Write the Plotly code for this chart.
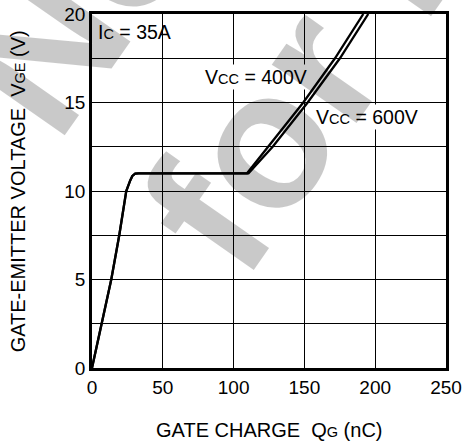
import plotly.graph_objects as go

# ---- data ----
q_400 = [0, 7.05, 13.6, 19.25, 24.2, 27, 28.5, 30.5, 33, 109.5, 124.6, 149.2, 171.6, 191.6]
v_400 = [0, 2.5, 5, 7.5, 10, 10.6, 10.85, 10.98, 11.0, 11.0, 12.5, 15, 17.5, 20]
q_600 = [0, 7.05, 13.6, 19.25, 24.2, 27, 28.5, 30.5, 33, 110.5, 127.6, 152.3, 175.1, 195.1]
v_600 = [0, 2.5, 5, 7.5, 10, 10.6, 10.85, 10.98, 11.0, 11.0, 12.5, 15, 17.5, 20]

x_ticks = [0, 50, 100, 150, 200, 250]
y_ticks = [0, 5, 10, 15, 20]
y_minor = [2.5, 7.5, 12.5, 17.5]

FONT = "Liberation Sans, Arial, Helvetica, sans-serif"
SM = "<span style='font-size:14.5px'>{}</span>"
WM = "rgba(0,0,0,0.21)"

fig = go.Figure()
fig.add_trace(go.Scatter(x=q_400, y=v_400, mode="lines", name="VCC = 400V",
                         line=dict(color="black", width=2.3), showlegend=False))
fig.add_trace(go.Scatter(x=q_600, y=v_600, mode="lines", name="VCC = 600V",
                         line=dict(color="black", width=2.3), showlegend=False))

annotations = [
    # labels
    dict(x=2.9, y=19.0, xref="x", yref="y", text="I" + SM.format("C") + " = 35A",
         showarrow=False, xanchor="left", yanchor="middle",
         font=dict(family=FONT, size=19.5, color="black")),
    dict(x=78.5, y=16.45, xref="x", yref="y", text="V" + SM.format("CC") + " = 400V",
         showarrow=False, xanchor="left", yanchor="middle", bgcolor="white",
         font=dict(family=FONT, size=19.5, color="black")),
    dict(x=156.5, y=14.2, xref="x", yref="y", text="V" + SM.format("CC") + " = 600V",
         showarrow=False, xanchor="left", yanchor="middle", bgcolor="white",
         font=dict(family=FONT, size=19.5, color="black")),
    # axis titles
    dict(x=0.5, y=-0.175, xref="paper", yref="paper",
         text="GATE CHARGE  Q" + SM.format("G") + " (nC)", showarrow=False,
         xanchor="center", yanchor="middle", font=dict(family=FONT, size=20, color="black")),
    dict(x=-0.208, y=0.5, xref="paper", yref="paper",
         text="GATE-EMITTER VOLTAGE  V" + SM.format("GE") + " (V)", showarrow=False,
         textangle=-90, xanchor="center", yanchor="middle",
         font=dict(family=FONT, size=20, color="black")),
    # watermark (two rotated lines)
    dict(x=0.007, y=1.114, xref="paper", yref="paper", text="<b>Not</b>", showarrow=False,
         textangle=-55, font=dict(family=FONT, size=195, color=WM),
         xanchor="center", yanchor="middle"),
    dict(x=0.833, y=1.150, xref="paper", yref="paper", text="<b>for new</b>", showarrow=False,
         textangle=-55, font=dict(family=FONT, size=195, color=WM),
         xanchor="center", yanchor="middle"),
]

fig.update_layout(
    width=462, height=441,
    margin=dict(l=92, r=16, t=14, b=73),
    paper_bgcolor="white", plot_bgcolor="white",
    font=dict(family=FONT, size=19, color="black"),
    annotations=annotations,
    xaxis=dict(range=[0, 250], tickvals=x_ticks, ticktext=[str(v) for v in x_ticks],
               showgrid=True, gridcolor="black", gridwidth=1.2, automargin=False,
               showline=True, linecolor="black", linewidth=2.5, mirror=True,
               ticks="", zeroline=False, tickfont=dict(size=19)),
    yaxis=dict(range=[0, 20], tickvals=y_ticks, ticktext=[str(v) for v in y_ticks],
               showgrid=True, gridcolor="black", gridwidth=1.2, automargin=False,
               minor=dict(tickvals=y_minor, showgrid=True, gridcolor="black", gridwidth=1.2),
               showline=True, linecolor="black", linewidth=2.5, mirror=True,
               ticks="", zeroline=False, tickfont=dict(size=19)),
)

fig.write_html("out.html")
